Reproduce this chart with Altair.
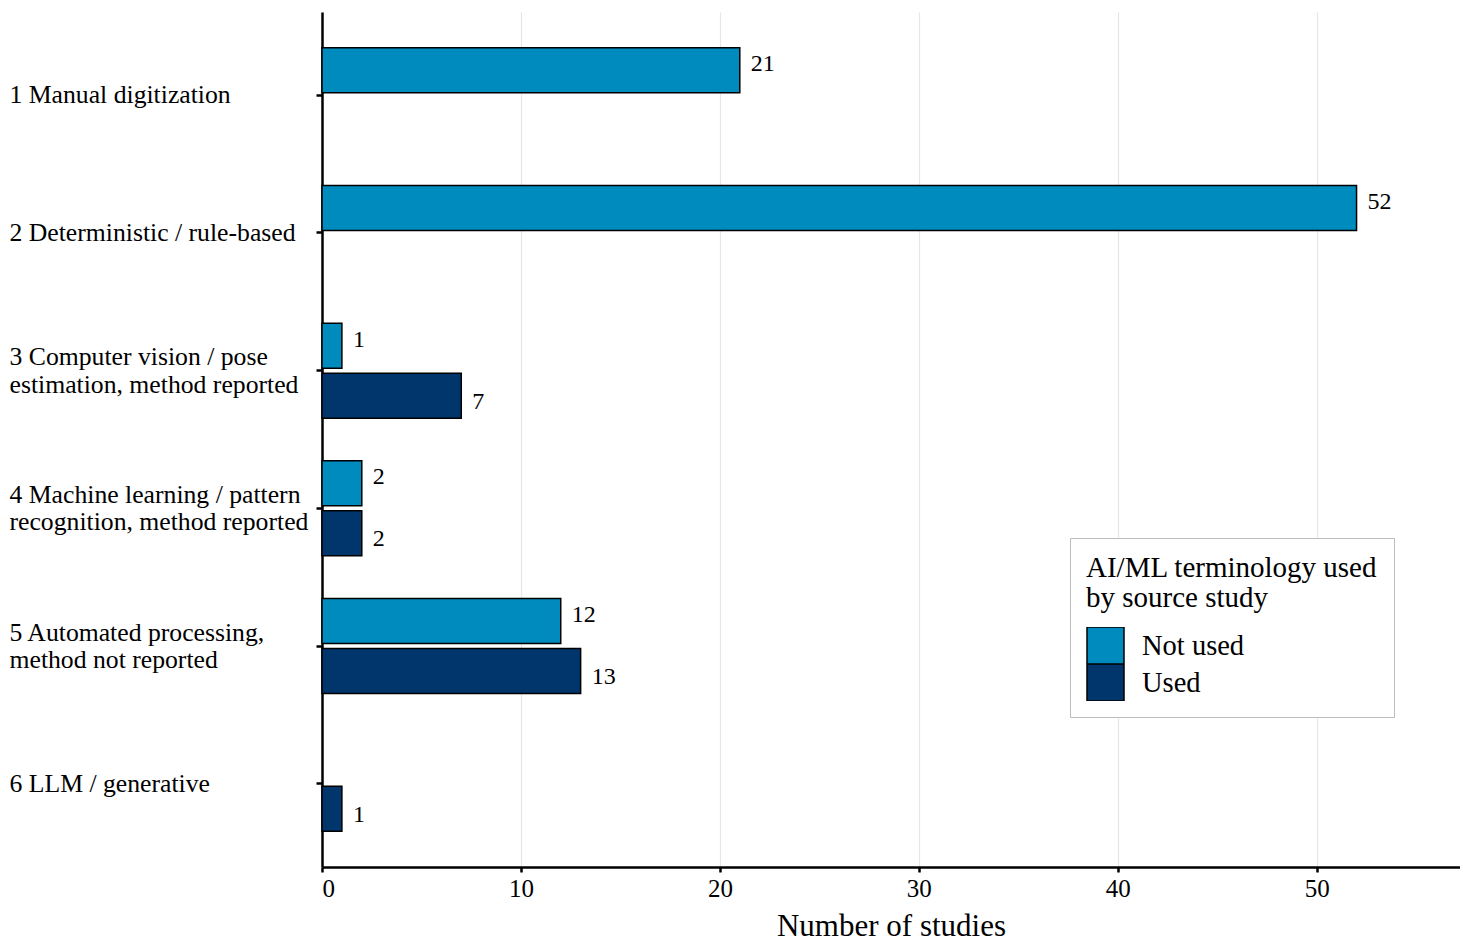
import altair as alt
import pandas as pd

categories = [
    "1 Manual digitization",
    "2 Deterministic / rule-based",
    "3 Computer vision / pose\nestimation, method reported",
    "4 Machine learning / pattern\nrecognition, method reported",
    "5 Automated processing,\nmethod not reported",
    "6 LLM / generative",
]
groups = ["Not used", "Used"]
not_used = [21, 52, 1, 2, 12, None]
used = [None, None, 7, 2, 13, 1]
colors = ["#008bbe", "#00366b"]

rows = []
for c, nu, u in zip(categories, not_used, used):
    if nu is not None:
        rows.append({"category": c, "group": groups[0], "count": nu})
    if u is not None:
        rows.append({"category": c, "group": groups[1], "count": u})
df = pd.DataFrame(rows)

FONT = "Liberation Serif"

y_enc = alt.Y(
    "category:N",
    sort=categories,
    scale=alt.Scale(paddingInner=0.31, paddingOuter=0.26),
    axis=alt.Axis(
        title=None,
        labelExpr="split(datum.label, '\\n')",
        labelAlign="left",
        labelBaseline="middle",
        labelPadding=307,
        labelOffset={"condition": {"test": "indexof(datum.value, '\\n') >= 0", "value": -13.5}, "value": 0},
        labelFontSize=25.7,
        labelLineHeight=27.5,
        labelFont=FONT,
        labelColor="black",
        labelLimit=400,
        tickSize=6,
        tickWidth=2.5,
        tickColor="black",
        domainColor="black",
        domainWidth=2.5,
        grid=False,
    ),
)
yoff_enc = alt.YOffset(
    "group:N", sort=groups, scale=alt.Scale(domain=groups, paddingInner=0.1)
)
x_enc = alt.X(
    "count:Q",
    scale=alt.Scale(domain=[0, 57.2], nice=False, zero=True),
    axis=alt.Axis(
        title="Number of studies",
        titleFont=FONT,
        titleFontSize=31,
        titleFontWeight="normal",
        titleColor="black",
        titlePadding=10,
        values=[0, 10, 20, 30, 40, 50],
        labelFont=FONT,
        labelFontSize=25,
        labelColor="black",
        labelPadding=4,
        tickSize=5,
        tickWidth=2.5,
        tickColor="black",
        domainColor="black",
        domainWidth=2.5,
        grid=True,
        gridColor="#e6e6e6",
        gridWidth=1.2,
    ),
)

bars = alt.Chart(df).mark_bar(stroke="black", strokeWidth=1.5).encode(
    y=y_enc,
    yOffset=yoff_enc,
    x=x_enc,
    color=alt.Color(
        "group:N",
        sort=groups,
        scale=alt.Scale(domain=groups, range=colors),
        legend=alt.Legend(
            title=["AI/ML terminology used", "by source study"],
            titleFont=FONT,
            titleFontSize=29,
            titleFontWeight="normal",
            titleColor="black",
            titleLineHeight=30,
            titlePadding=14,
            titleLimit=500,
            labelFont=FONT,
            labelFontSize=28.5,
            labelColor="black",
            labelOffset=17,
            labelLimit=400,
            symbolType="square",
            symbolSize=1369,
            symbolStrokeColor="black",
            symbolStrokeWidth=1.5,
            symbolOpacity=1,
            clipHeight=37,
            rowPadding=0,
            orient="none",
            legendX=748,
            legendY=526,
            padding=16,
            strokeColor="#bdbdbd",
            fillColor="white",
        ),
    ),
)

y_plain = alt.Y("category:N", sort=categories)
x_plain = alt.X("count:Q")

text_nu = alt.Chart(df).transform_filter(alt.datum.group == groups[0]).mark_text(
    align="left", baseline="middle", dx=11, dy=-6, font=FONT, fontSize=24, color="black"
).encode(y=y_plain, yOffset=yoff_enc, x=x_plain, text="count:Q")

text_u = alt.Chart(df).transform_filter(alt.datum.group == groups[1]).mark_text(
    align="left", baseline="middle", dx=11, dy=6, font=FONT, fontSize=24, color="black"
).encode(y=y_plain, yOffset=yoff_enc, x=x_plain, text="count:Q")

chart = (
    alt.layer(bars, text_nu, text_u)
    .properties(
        width=1138,
        height=855,
        background="white",
        autosize=alt.AutoSizeParams(type="none"),
        padding={"left": 314, "top": 4, "right": 0, "bottom": 76},
    )
    .configure_view(strokeWidth=0, stroke="transparent")
)

chart.save("out.html", embed_options={"renderer": "svg", "actions": False})
